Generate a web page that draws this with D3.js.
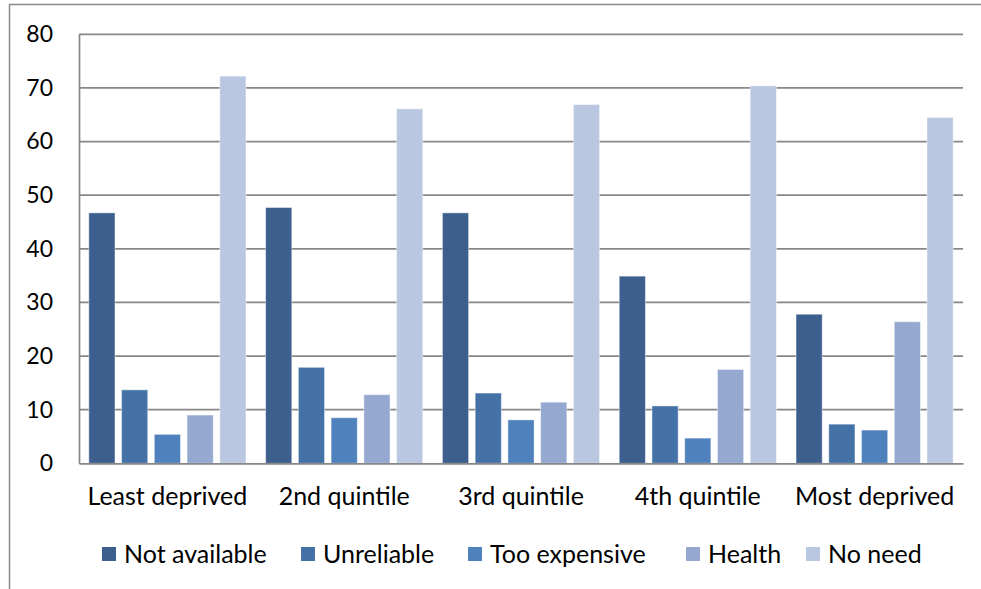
<!DOCTYPE html>
<html>
<head>
<meta charset="utf-8">
<script src="https://cdn.jsdelivr.net/npm/d3@7/dist/d3.min.js"></script>
<style>
  html, body { margin: 0; padding: 0; background: #fff; }
  svg { display: block; }
  text { font-family: Lato, "Open Sans", sans-serif; fill: #000; }
</style>
</head>
<body>
<svg id="chart" width="981" height="589"></svg>
<script>
// Reasons given, by deprivation quintile (%)
const categories = ["Least deprived", "2nd quintile", "3rd quintile", "4th quintile", "Most deprived"];
const seriesNames = ["Not available", "Unreliable", "Too expensive", "Health", "No need"];
const notAvailable = [46.7, 47.7, 46.7, 34.9, 27.8];
const unreliable   = [13.7, 17.9, 13.1, 10.7, 7.3];
const tooExpensive = [5.4, 8.5, 8.1, 4.7, 6.2];
const health       = [9.0, 12.8, 11.4, 17.5, 26.4];
const noNeed       = [72.2, 66.1, 66.9, 70.4, 64.5];
const yTicks = [0, 10, 20, 30, 40, 50, 60, 70, 80];
const seriesColors = ["#3c5f8e", "#4472a6", "#4f81bd", "#95a9d0", "#bac7e0"];

const seriesValues = [notAvailable, unreliable, tooExpensive, health, noNeed];

const svg = d3.select("#chart");
const tickFont = 23;
const labelFont = 25;

// Plot area
const plot = { left: 79, right: 963, top: 34.3, bottom: 463.3 };

const y = d3.scaleLinear().domain([0, 80]).range([plot.bottom, plot.top]);
const x0 = d3.scaleBand().domain(categories).range([plot.left, plot.right]).padding(0);
const x1 = d3.scaleBand().domain(seriesNames).range([0, x0.bandwidth()])
  .paddingInner(0.2).paddingOuter(0.3);
const color = d3.scaleOrdinal().domain(seriesNames).range(seriesColors);

// Outer chart frame (top and left edges)
svg.append("path")
  .attr("d", "M9.5,589 L9.5,4.5 L981,4.5")
  .attr("fill", "none").attr("stroke", "#8a8a8a").attr("stroke-width", 1.5);

// Horizontal gridlines
svg.append("g")
  .selectAll("line")
  .data(yTicks.filter(d => d > 0))
  .join("line")
  .attr("x1", plot.left).attr("x2", plot.right)
  .attr("y1", d => y(d)).attr("y2", d => y(d))
  .attr("stroke", "#878787").attr("stroke-width", 1.7);

// Value axis
const yAxis = svg.append("g")
  .attr("transform", `translate(${plot.left},0)`)
  .call(d3.axisLeft(y).tickValues(yTicks).tickSize(0).tickPadding(26));
yAxis.select(".domain").attr("stroke", "#878787").attr("stroke-width", 1.7);
yAxis.selectAll("text")
  .attr("font-size", tickFont).attr("font-family", "Lato, sans-serif").attr("fill", "#000");

// Bars
const rows = categories.map((c, i) => ({
  category: c,
  values: seriesNames.map((s, j) => ({ series: s, value: seriesValues[j][i] }))
}));

svg.append("g")
  .selectAll("g")
  .data(rows)
  .join("g")
  .attr("transform", d => `translate(${x0(d.category)},0)`)
  .selectAll("rect")
  .data(d => d.values)
  .join("rect")
  .attr("x", d => x1(d.series))
  .attr("width", x1.bandwidth())
  .attr("y", d => y(d.value))
  .attr("height", d => y(0) - y(d.value))
  .attr("fill", d => color(d.series))
  .attr("stroke", "rgba(255,255,255,0.45)")
  .attr("stroke-width", 1);

// Category axis
const xAxis = svg.append("g")
  .attr("transform", `translate(0,${plot.bottom})`)
  .call(d3.axisBottom(x0).tickSize(0).tickPadding(24));
xAxis.select(".domain").attr("stroke", "#878787").attr("stroke-width", 1.7);
xAxis.selectAll("text")
  .attr("font-size", labelFont).attr("font-family", "Lato, sans-serif").attr("fill", "#000");

// Legend
const legendX = [102, 301, 468, 686, 806];
const legend = svg.append("g")
  .selectAll("g")
  .data(seriesNames)
  .join("g")
  .attr("transform", (d, i) => `translate(${legendX[i]},547)`);
legend.append("rect")
  .attr("width", 14).attr("height", 14)
  .attr("fill", d => color(d));
legend.append("text")
  .attr("x", 22).attr("y", 7).attr("dy", "0.35em")
  .attr("font-size", labelFont)
  .text(d => d);
</script>
</body>
</html>
